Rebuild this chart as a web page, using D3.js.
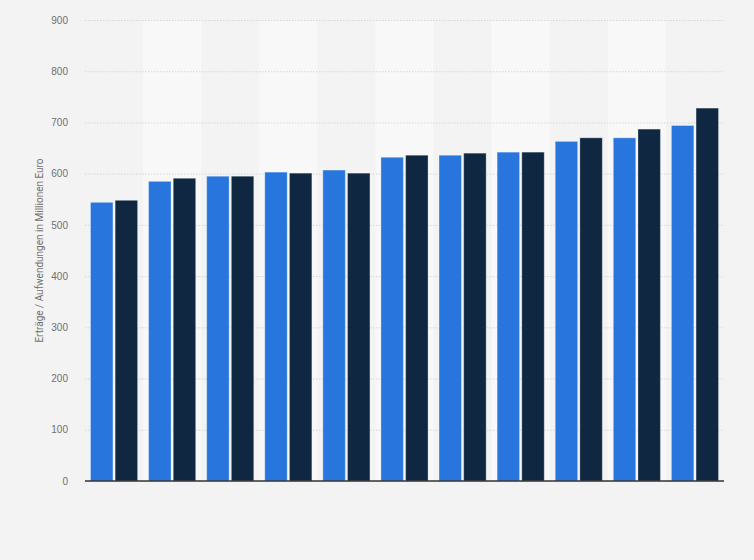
<!DOCTYPE html>
<html>
<head>
<meta charset="utf-8">
<script src="https://cdn.jsdelivr.net/npm/d3@7"></script>
<style>
  body { margin: 0; background: #f3f3f3; }
  svg { display: block; font-family: Roboto, "Liberation Sans", sans-serif; }
</style>
</head>
<body>
<script>
// groups have no visible labels in the picture
var categories = ["1", "2", "3", "4", "5", "6", "7", "8", "9", "10", "11"];
var seriesNames = ["Erträge", "Aufwendungen"];
var ertraege = [544, 585, 595, 603, 607, 632, 636, 642, 663, 670, 694];
var aufwendungen = [548, 591, 595, 601, 601, 636, 640, 642, 670, 687, 728];
var yTicks = [0, 100, 200, 300, 400, 500, 600, 700, 800, 900];
var colors = ["#2876dd", "#0f2741"];

var outerWidth = 754, outerHeight = 560;
var margin = { top: 20, right: 30, bottom: 79, left: 85 },
    width = outerWidth - margin.left - margin.right,
    height = outerHeight - margin.top - margin.bottom;

var svg = d3.select("body").append("svg")
    .attr("width", outerWidth).attr("height", outerHeight);

svg.append("rect").attr("width", outerWidth).attr("height", outerHeight).attr("fill", "#f3f3f3");

var g = svg.append("g").attr("transform", "translate(" + margin.left + "," + margin.top + ")");

var x0 = d3.scaleBand().domain(categories).range([0, width]).padding(0);
var x1 = d3.scaleBand().domain([0, 1]).range([5.5, x0.bandwidth() - 5.5]).paddingInner(0.09);
var y = d3.scaleLinear().domain([0, 900]).range([height, 0]);

// alternating column bands
g.selectAll("rect.band").data(categories.filter(function (d, i) { return i % 2 == 1; }))
  .enter().append("rect").attr("class", "band")
  .attr("x", function (d) { return x0(d); })
  .attr("y", 0)
  .attr("width", x0.bandwidth())
  .attr("height", height)
  .attr("fill", "#f8f8f8");

// grid + tick labels
var yAxis = d3.axisLeft(y).tickValues(yTicks).tickSize(-width).tickPadding(17);
var yAxisGroup = g.append("g").call(yAxis);
yAxisGroup.select(".domain").remove();
yAxisGroup.selectAll(".tick line")
  .attr("stroke", "#d6d6d6").attr("stroke-dasharray", "1.5,1.5");
yAxisGroup.selectAll(".tick text")
  .attr("fill", "#707070").style("font-size", "10px");

var rows = categories.map(function (c, i) { return { cat: c, vals: [ertraege[i], aufwendungen[i]] }; });

var groups = g.selectAll("g.grp").data(rows).enter().append("g")
  .attr("transform", function (d) { return "translate(" + x0(d.cat) + ",0)"; });

groups.selectAll("rect").data(function (d) { return d.vals.map(function (v, k) { return { k: k, v: v }; }); })
  .enter().append("rect")
  .attr("x", function (d) { return x1(d.k); })
  .attr("y", function (d) { return y(d.v); })
  .attr("width", x1.bandwidth())
  .attr("height", function (d) { return height - y(d.v); })
  .attr("fill", function (d) { return colors[d.k]; })
  .attr("stroke", "rgba(255,255,255,0.3)")
  .attr("stroke-width", 1);

// baseline
g.append("line").attr("x1", 0).attr("x2", width).attr("y1", height).attr("y2", height)
  .attr("stroke", "#333").attr("stroke-width", 1.5);

// y axis title
svg.append("text")
  .attr("transform", "translate(43," + (margin.top + height / 2) + ") rotate(-90)")
  .attr("text-anchor", "middle")
  .attr("fill", "#707070")
  .style("font-size", "10px")
  .text("Erträge / Aufwendungen in Millionen Euro");
</script>
</body>
</html>
